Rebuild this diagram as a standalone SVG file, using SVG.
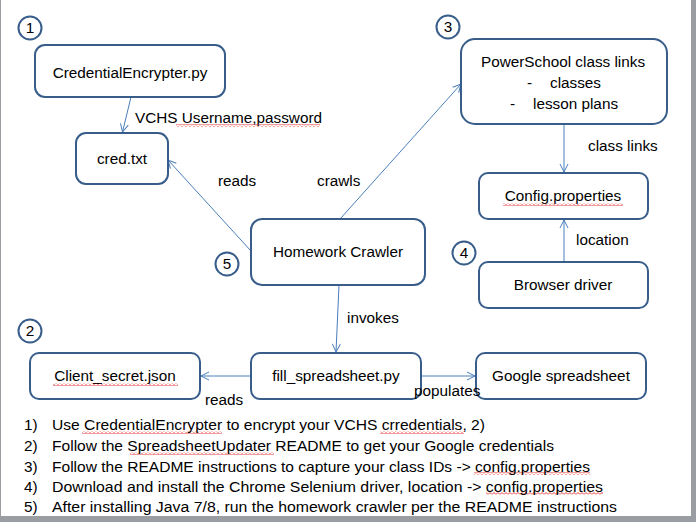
<svg xmlns="http://www.w3.org/2000/svg" width="696" height="522" viewBox="0 0 696 522">
<style>
.bg{fill:#ffffff}
.node rect{fill:#ffffff;stroke:#385D8A;stroke-width:2}
.num circle{fill:#ffffff;stroke:#385D8A;stroke-width:2}
text{font-family:"Liberation Sans",Arial,sans-serif;font-size:15.3px;fill:#000000}
.c{text-anchor:middle}
.edge{stroke:#4A7EBB;stroke-width:1;fill:none}
.sq{fill:url(#squig)}
</style>
<defs>
<marker id="arr" markerWidth="12" markerHeight="12" refX="9" refY="5" orient="auto" markerUnits="userSpaceOnUse">
<path d="M1,1 L9,5 L1,9" fill="none" stroke="#4A7EBB" stroke-width="1"/>
</marker>
<pattern id="squig" width="4" height="3" patternUnits="userSpaceOnUse">
<path d="M0,2.5 L2,0.5 L4,2.5" fill="none" stroke="#E02020" stroke-width="0.9"/>
</pattern>
</defs>
<rect x="0" y="0" width="696" height="522" fill="#9a9da2"/>
<rect class="bg" x="1" y="0" width="690" height="516"/>

<g id="connectors">
<line class="edge" x1="131" y1="97" x2="122.5" y2="132" marker-end="url(#arr)"/>
<line class="edge" x1="251" y1="251" x2="168" y2="160" marker-end="url(#arr)"/>
<line class="edge" x1="340" y1="219" x2="461" y2="84" marker-end="url(#arr)"/>
<line class="edge" x1="564" y1="124" x2="564" y2="172" marker-end="url(#arr)"/>
<line class="edge" x1="564" y1="262" x2="564" y2="220" marker-end="url(#arr)"/>
<line class="edge" x1="339" y1="285" x2="336" y2="352" marker-end="url(#arr)"/>
<line class="edge" x1="251" y1="376" x2="201" y2="376" marker-end="url(#arr)"/>
<line class="edge" x1="421" y1="376" x2="475" y2="376" marker-end="url(#arr)"/>
</g>

<g id="node-credentialencrypter" class="node"><rect x="35" y="45" width="190" height="52" rx="10"/><text class="c" x="130" y="78">CredentialEncrypter.py</text></g>
<g id="node-credtxt" class="node"><rect x="76" y="133" width="92" height="51" rx="10"/><text class="c" x="122" y="164">cred.txt</text></g>
<g id="node-powerschool" class="node"><rect x="461" y="39" width="206" height="85" rx="14"/>
<text class="c" x="563" y="67">PowerSchool class links</text>
<text x="527" y="88">-</text><text x="550" y="88">classes</text>
<text x="510" y="109">-</text><text x="533" y="109">lesson plans</text></g>
<g id="node-config" class="node"><rect x="479" y="173" width="169" height="46" rx="9"/><text class="c" x="563" y="201">Config.properties</text></g>
<g id="node-crawler" class="node"><rect x="251" y="219" width="174" height="66" rx="11"/><text class="c" x="338" y="257">Homework Crawler</text></g>
<g id="node-browser" class="node"><rect x="479" y="262" width="169" height="46" rx="9"/><text class="c" x="563" y="290">Browser driver</text></g>
<g id="node-client" class="node"><rect x="30" y="353" width="170" height="46" rx="9"/><text class="c" x="115" y="381">Client_secret.json</text></g>
<g id="node-fill" class="node"><rect x="251" y="353" width="170" height="46" rx="9"/><text class="c" x="336" y="381">fill_spreadsheet.py</text></g>
<g id="node-google" class="node"><rect x="476" y="353" width="170" height="46" rx="9"/><text class="c" x="561" y="381">Google spreadsheet</text></g>

<g id="connector-labels">
<text x="135" y="123">VCHS Username,password</text>
<text x="218" y="186">reads</text>
<text x="317" y="186">crawls</text>
<text x="588" y="151">class links</text>
<text x="576" y="245">location</text>
<text x="347" y="323">invokes</text>
<text x="205" y="405">reads</text>
<text x="414" y="396">populates</text>
</g>

<g id="step-1" class="num"><circle cx="30" cy="28" r="11.5"/><text class="c" x="30" y="33">1</text></g>
<g id="step-2" class="num"><circle cx="30" cy="331" r="11.5"/><text class="c" x="30" y="336">2</text></g>
<g id="step-3" class="num"><circle cx="448" cy="27" r="11.5"/><text class="c" x="448" y="32">3</text></g>
<g id="step-4" class="num"><circle cx="464" cy="253" r="11.5"/><text class="c" x="464" y="258">4</text></g>
<g id="step-5" class="num"><circle cx="227" cy="264" r="11.5"/><text class="c" x="227" y="269">5</text></g>

<g id="squiggles">
<rect class="sq" x="176" y="124" width="144" height="3"/>
<rect class="sq" x="503" y="203" width="120" height="3"/>
<rect class="sq" x="53" y="383" width="125" height="3"/>
<rect class="sq" x="82" y="431" width="140" height="3"/>
<rect class="sq" x="380" y="431" width="84" height="3"/>
<rect class="sq" x="130" y="452" width="144" height="3"/>
<rect class="sq" x="474" y="472" width="116" height="3"/>
<rect class="sq" x="486" y="492" width="117" height="3"/>
</g>

<g id="instructions">
<text x="24" y="430">1)</text>
<text x="24" y="451">2)</text>
<text x="24" y="472">3)</text>
<text x="24" y="492">4)</text>
<text x="24" y="512">5)</text>
<text x="52" y="430" textLength="433" lengthAdjust="spacingAndGlyphs">Use CredentialEncrypter  to encrypt your VCHS crredentials, 2)</text>
<text x="52" y="451" textLength="502" lengthAdjust="spacingAndGlyphs">Follow the SpreadsheetUpdater  README  to get your Google credentials</text>
<text x="52" y="472" textLength="538" lengthAdjust="spacingAndGlyphs">Follow the README  instructions to capture your class IDs -&gt; config.properties</text>
<text x="52" y="492" textLength="551" lengthAdjust="spacingAndGlyphs">Download  and install the Chrome Selenium driver, location -&gt; config.properties</text>
<text x="52" y="512" textLength="565" lengthAdjust="spacingAndGlyphs">After installing Java 7/8, run the homework crawler per the README instructions</text>
</g>
</svg>
